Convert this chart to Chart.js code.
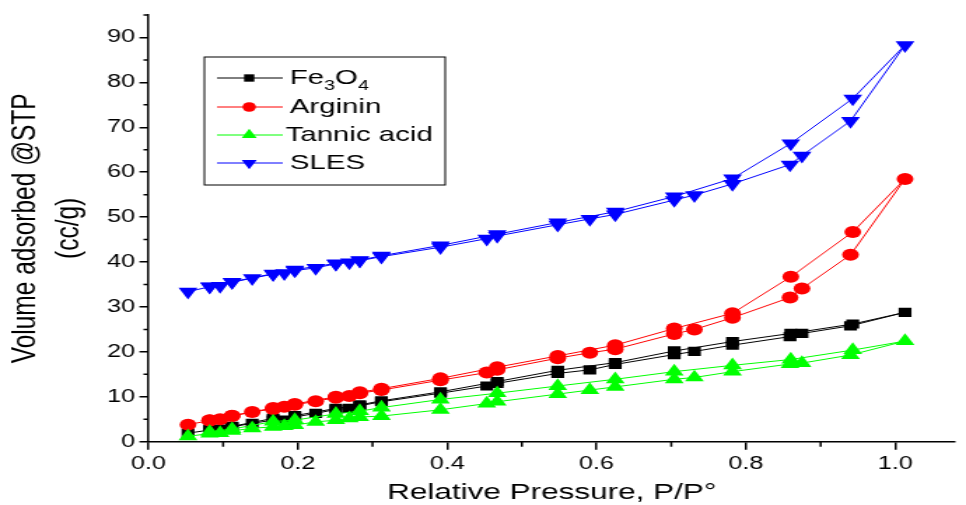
<!DOCTYPE html>
<html>
<head>
<meta charset="utf-8">
<script src="https://cdn.jsdelivr.net/npm/chart.js@4.4.1/dist/chart.umd.min.js"></script>
<style>
    html, body { margin: 0; padding: 0; background: #ffffff; }
    #isotherm { display: block; }
</style>
</head>
<body>
<canvas id="isotherm" width="690" height="505" style="width:966px;height:505px"></canvas>
<script>
// Relative pressure (P/P0) of adsorption and desorption branches
const adsPressure = [0.053, 0.082, 0.096, 0.112, 0.139, 0.167, 0.182, 0.196, 0.224, 0.251, 0.269, 0.283, 0.312,
    0.391, 0.453, 0.467, 0.548, 0.591, 0.625, 0.704, 0.731, 0.782, 0.859, 0.875, 0.940, 1.013];
const desPressure = [0.943, 0.860, 0.782, 0.704, 0.625, 0.548, 0.467, 0.391, 0.312, 0.283, 0.251, 0.196, 0.167, 0.112, 0.082];

// Volume adsorbed (cc/g)
const fe3o4Ads = [1.9, 2.6, 2.8, 3.3, 4.1, 4.8, 4.8, 5.5, 6.3, 7.2, 7.4, 8.0, 8.9,
    10.8, 12.4, 13.0, 15.2, 16.0, 17.2, 19.4, 20.1, 21.5, 23.4, 24.1, 25.8, 28.8];
const fe3o4Des = [26.2, 24.1, 22.3, 20.2, 17.6, 15.9, 13.4, 11.1, 9.1, 8.2, 7.4, 5.8, 5.2, 3.4, 2.7];

const argininAds = [3.8, 4.7, 5.0, 5.7, 6.6, 7.3, 7.8, 8.2, 9.0, 9.8, 10.2, 10.8, 11.5,
    13.7, 15.4, 16.0, 18.6, 19.8, 20.6, 24.0, 25.0, 27.6, 32.1, 34.1, 41.6, 58.5];
const argininDes = [46.7, 36.7, 28.6, 25.2, 21.5, 19.1, 16.6, 14.1, 11.8, 11.0, 10.0, 8.4, 7.5, 5.8, 4.8];

const tannicAds = [1.2, 1.8, 1.9, 2.4, 3.0, 3.3, 3.5, 3.7, 4.4, 4.8, 5.2, 5.5, 5.7,
    7.1, 8.5, 8.9, 10.6, 11.5, 12.2, 13.9, 14.3, 15.6, 17.3, 17.5, 19.3, 22.4];
const tannicDes = [20.4, 18.3, 17.0, 15.6, 13.9, 12.4, 10.8, 9.4, 7.6, 6.8, 6.2, 4.8, 4.5, 2.8, 2.2];

const slesAds = [33.4, 34.5, 34.7, 35.5, 36.4, 37.3, 37.5, 38.1, 38.7, 39.6, 39.9, 40.3, 41.2,
    43.3, 45.2, 45.8, 48.3, 49.6, 50.6, 53.8, 54.9, 57.4, 61.7, 63.7, 71.4, 88.3];
const slesDes = [76.4, 66.4, 58.6, 54.6, 51.2, 48.8, 46.2, 43.7, 41.4, 40.4, 39.7, 38.3, 37.4, 35.6, 34.6];

const xMinorTicks = [0.1, 0.3, 0.5, 0.7, 0.9];
const yMinorTicks = [5, 15, 25, 35, 45, 55, 65, 75, 85, 95];

const FONT = "'Liberation Sans', Arial, sans-serif";

// one closed loop per sample: adsorption up, desorption back down
function loop(ads, des) {
    const pts = adsPressure.map((p, i) => ({ x: p, y: ads[i] }));
    return pts.concat(desPressure.map((p, i) => ({ x: p, y: des[i] })));
}

const series = [
    { label: 'Fe3O4', color: '#000000', style: 'rect', radius: 6.5, rot: 0, ads: fe3o4Ads, des: fe3o4Des, order: 3 },
    { label: 'Arginin', color: '#ff0000', style: 'circle', radius: 6, rot: 0, ads: argininAds, des: argininDes, order: 2 },
    { label: 'Tannic acid', color: '#00ff00', style: 'triangle', radius: 7.8, rot: 0, ads: tannicAds, des: tannicDes, order: 0 },
    { label: 'SLES', color: '#0000ff', style: 'triangle', radius: 7.8, rot: 180, ads: slesAds, des: slesDes, order: 1 }
];

const minorTicks = {
    id: 'minorTicks',
    afterDraw(chart) {
        const { ctx, scales: { x, y }, chartArea } = chart;
        ctx.save();
        ctx.strokeStyle = '#000';
        ctx.lineWidth = 1.5;
        ctx.beginPath();
        xMinorTicks.forEach(v => {
            const px = x.getPixelForValue(v);
            ctx.moveTo(px, chartArea.bottom);
            ctx.lineTo(px, chartArea.bottom + 5);
        });
        yMinorTicks.forEach(v => {
            const py = y.getPixelForValue(v);
            ctx.moveTo(chartArea.left, py);
            ctx.lineTo(chartArea.left - 3.5, py);
        });
        ctx.stroke();
        ctx.restore();
    }
};

// legend box with subscripted Fe3O4
const isoLegend = {
    id: 'isoLegend',
    afterDraw(chart) {
        const ctx = chart.ctx;
        const box = { left: 146, top: 57, right: 318, bottom: 185 };
        const rows = [78, 107, 135, 163];
        ctx.save();
        ctx.strokeStyle = '#000';
        ctx.lineWidth = 1;
        ctx.strokeRect(box.left, box.top, box.right - box.left, box.bottom - box.top);
        series.forEach((s, i) => {
            const y = rows[i];
            ctx.strokeStyle = s.color;
            ctx.lineWidth = 1;
            ctx.beginPath();
            ctx.moveTo(155, y);
            ctx.lineTo(202, y);
            ctx.stroke();
            ctx.fillStyle = s.color;
            Chart.helpers.drawPoint(ctx, { pointStyle: s.style, radius: s.radius * 0.8, rotation: s.rot, borderWidth: 0 }, 178, y);
            ctx.fillStyle = '#000';
            ctx.textBaseline = 'middle';
            ctx.font = '21px ' + FONT;
            if (s.label === 'Fe3O4') {
                let tx = 207;
                const parts = [['Fe', false], ['3', true], ['O', false], ['4', true]];
                parts.forEach(([t, sub]) => {
                    ctx.font = (sub ? '14px ' : '21px ') + FONT;
                    ctx.fillText(t, tx, sub ? y + 8 : y);
                    tx += ctx.measureText(t).width;
                });
            } else {
                ctx.fillText(s.label, s.label === 'Tannic acid' ? 204 : 207, y);
            }
        });
        ctx.restore();
    }
};

new Chart(document.getElementById('isotherm'), {
    type: 'line',
    data: {
        datasets: series.map(s => ({
            label: s.label,
            data: loop(s.ads, s.des),
            borderColor: s.color,
            backgroundColor: s.color,
            borderWidth: 1,
            pointStyle: s.style,
            pointRotation: s.rot,
            pointRadius: s.radius,
            pointHoverRadius: s.radius,
            pointBorderWidth: 0,
            pointBackgroundColor: s.color,
            tension: 0,
            order: s.order
        }))
    },
    options: {
        responsive: false,
        animation: false,
        events: [],
        layout: { padding: { top: 15, right: 2, left: 0, bottom: 0 } },
        plugins: { legend: { display: false }, tooltip: { enabled: false } },
        scales: {
            x: {
                type: 'linear',
                min: 0,
                max: 1.08,
                afterFit(scale) { scale.height = 63.3; },
                border: { display: true, color: '#000', width: 1.5 },
                grid: { display: true, drawOnChartArea: false, drawTicks: true, tickLength: 8, color: '#000', lineWidth: 1.5 },
                ticks: {
                    stepSize: 0.2,
                    includeBounds: false,
                    color: '#000',
                    padding: 4,
                    maxRotation: 0,
                    font: { family: FONT, size: 18 },
                    callback: v => v.toFixed(1)
                },
                title: {
                    display: true,
                    text: 'Relative Pressure, P/P\u00B0',
                    color: '#000',
                    padding: 0,
                    font: { family: FONT, size: 22.5, lineHeight: 1.1 }
                }
            },
            y: {
                type: 'linear',
                min: 0,
                max: 95,
                afterFit(scale) { scale.width = 106; },
                border: { display: true, color: '#000', width: 1.5 },
                grid: { display: true, drawOnChartArea: false, drawTicks: true, tickLength: 6.4, color: '#000', lineWidth: 1.5 },
                ticks: {
                    stepSize: 10,
                    includeBounds: false,
                    color: '#000',
                    padding: 3,
                    font: { family: FONT, size: 18 }
                },
                title: {
                    display: true,
                    text: ['Volume adsorbed @STP', '(cc/g)'],
                    color: '#000',
                    padding: { top: 3, bottom: 0 },
                    font: { family: FONT, size: 24.5, lineHeight: 1.26 }
                }
            }
        }
    },
    plugins: [minorTicks, isoLegend]
});
</script>
</body>
</html>
